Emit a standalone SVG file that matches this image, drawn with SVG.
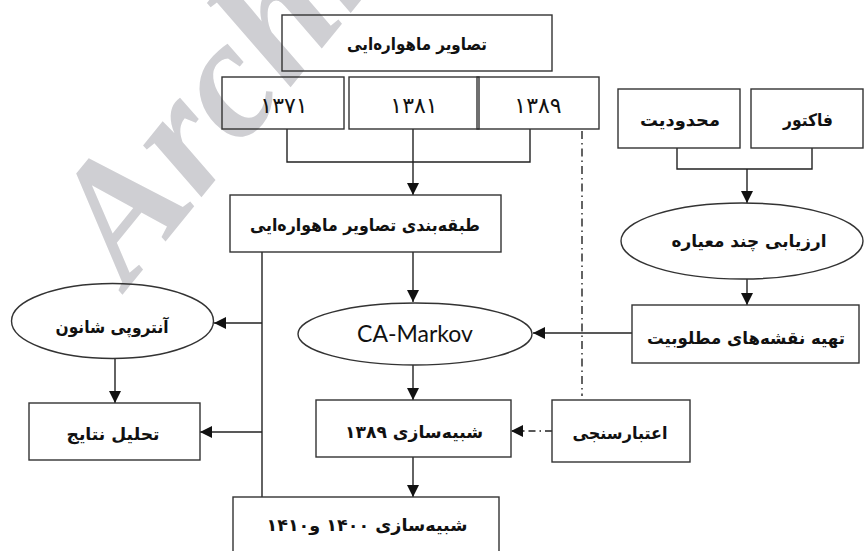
<svg xmlns="http://www.w3.org/2000/svg" width="864" height="551" viewBox="0 0 864 551">
<style>
.bx{fill:none;stroke:#333;stroke-width:1.4}
.ln{fill:none;stroke:#222;stroke-width:1.4}
.ar{marker-end:url(#ah)}
.fa{font-family:"DejaVu Sans","Noto Sans",sans-serif;font-weight:bold;font-size:17px;fill:#111;text-anchor:middle;direction:rtl}
.num{font-size:22px;font-weight:normal}
.en{font-family:Lato,"Open Sans",sans-serif;font-size:23px;fill:#111;text-anchor:middle}
.wm{font-family:"Liberation Serif",serif;font-weight:bold;font-style:italic;font-size:170px;fill:#cfcfd3}
</style>
<defs>
<marker id="ah" markerUnits="userSpaceOnUse" markerWidth="13" markerHeight="13" refX="12" refY="6.5" orient="auto">
<path d="M0,0.5 L12,6.5 L0,12.5 z" fill="#111"/>
</marker>
</defs>
<text class="wm" x="128" y="288" transform="rotate(-51 128 288)">Archive</text>
<g id="connectors">
<path class="ln" d="M287,129 V162 H530 V129"/>
<path class="ln ar" d="M413,129 V195"/>
<path class="ln ar" d="M413,252 V302"/>
<path class="ln" d="M262,252 V497"/>
<path class="ln ar" d="M262,323 H214"/>
<path class="ln ar" d="M262,432 H200"/>
<path class="ln ar" d="M115,358 V403"/>
<path class="ln ar" d="M413,365 V400"/>
<path class="ln ar" d="M413,457 V497"/>
<path class="ln" d="M582,131 V396" stroke-dasharray="8,4,1.5,4"/>
<path class="ln ar" d="M552,431 H511" stroke-dasharray="7,4,1.5,4"/>
<path class="ln" d="M677,148 V169 H812 V148"/>
<path class="ln ar" d="M747,169 V203"/>
<path class="ln ar" d="M747,279 V305"/>
<path class="ln ar" d="M632,333 H533"/>
</g>
<g id="n-images"><rect class="bx" x="282" y="15" width="270" height="56"/><text class="fa" x="417" y="50" textLength="140" lengthAdjust="spacingAndGlyphs">تصاویر ماهواره‌ایی</text></g>
<g id="n-1371"><rect class="bx" x="222" y="77" width="122" height="52"/><text class="fa num" x="284" y="113">۱۳۷۱</text></g>
<g id="n-1381"><rect class="bx" x="349" y="77" width="130" height="52"/><text class="fa num" x="414" y="113">۱۳۸۱</text></g>
<g id="n-1389"><rect class="bx" x="477" y="77" width="122" height="52"/><text class="fa num" x="538" y="113">۱۳۸۹</text></g>
<g id="n-class"><rect class="bx" x="230" y="195" width="271" height="57"/><text class="fa" x="365" y="231" textLength="230" lengthAdjust="spacingAndGlyphs">طبقه‌بندی تصاویر ماهواره‌ایی</text></g>
<g id="n-camarkov"><ellipse class="bx" cx="415" cy="334" rx="117" ry="31"/><text class="en" x="415" y="342">CA-Markov</text></g>
<g id="n-shannon"><ellipse class="bx" cx="112.5" cy="321" rx="101" ry="37.5"/><text class="fa" x="112" y="333" textLength="113" lengthAdjust="spacingAndGlyphs">آنتروپی شانون</text></g>
<g id="n-analysis"><rect class="bx" x="29" y="403" width="171" height="57"/><text class="fa" x="113" y="440" textLength="93" lengthAdjust="spacingAndGlyphs">تحلیل نتایج</text></g>
<g id="n-sim1389"><rect class="bx" x="316" y="400" width="195" height="57"/><text class="fa" x="414" y="438" textLength="138" lengthAdjust="spacingAndGlyphs">شبیه‌سازی ۱۳۸۹</text></g>
<g id="n-validation"><rect class="bx" x="552" y="400" width="138" height="62"/><text class="fa" x="620" y="439" textLength="95" lengthAdjust="spacingAndGlyphs">اعتبارسنجی</text></g>
<g id="n-sim1400"><rect class="bx" x="233" y="497" width="266" height="60"/><text class="fa" x="367" y="531" textLength="201" lengthAdjust="spacingAndGlyphs">شبیه‌سازی ۱۴۰۰ و۱۴۱۰</text></g>
<g id="n-constraint"><rect class="bx" x="618" y="89" width="122" height="59"/><text class="fa" x="680" y="126" textLength="80" lengthAdjust="spacingAndGlyphs">محدودیت</text></g>
<g id="n-factor"><rect class="bx" x="751" y="89" width="112" height="59"/><text class="fa" x="808" y="126" textLength="50" lengthAdjust="spacingAndGlyphs">فاکتور</text></g>
<g id="n-mce"><ellipse class="bx" cx="742" cy="241" rx="121" ry="38"/><text class="fa" x="749" y="247" textLength="155" lengthAdjust="spacingAndGlyphs">ارزیابی چند معیاره</text></g>
<g id="n-suitability"><rect class="bx" x="632" y="305" width="227" height="58"/><text class="fa" x="746" y="344" textLength="198" lengthAdjust="spacingAndGlyphs">تهیه نقشه‌های مطلوبیت</text></g>
</svg>
